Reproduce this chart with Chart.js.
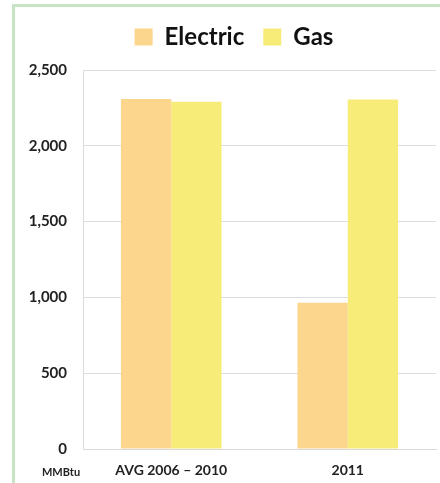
<!DOCTYPE html>
<html>
<head>
<meta charset="utf-8">
<script src="https://cdn.jsdelivr.net/npm/chart.js@4/dist/chart.umd.min.js"></script>
<style>
  html, body { margin:0; padding:0; width:440px; height:483px; overflow:hidden; background:#fff; }
  #frame { position:absolute; left:12px; top:4px; width:500px; height:600px; border:3px solid #c4e4c4; box-sizing:border-box; }
  #wrap { position:absolute; left:0; top:0; width:440px; height:483px; }
</style>
</head>
<body>
<div id="frame"></div>
<div id="wrap"><canvas id="c" width="440" height="483"></canvas></div>
<script>
const categories = ['AVG 2006 \u2013 2010', '2011'];
const electricValues = [2309, 965];
const gasValues = [2291, 2306];
const yTicks = [0, 500, 1000, 1500, 2000, 2500];
const unitLabel = 'MMBtu';

const FONT = 'Lato, "Open Sans", sans-serif';

const unitPlugin = {
  id: 'unitLabel',
  afterInit(chart) {
    const lg = chart.legend;
    if (lg) {
      const origFit = lg.fit;
      lg.fit = function () { origFit.call(this); this.height += 11; };
      const origDraw = lg.draw;
      lg.draw = function () {
        const ctx = this.ctx;
        ctx.save();
        ctx.translate(16, 0);
        origDraw.call(this);
        ctx.restore();
      };
    }
  },
  afterDraw(chart) {
    const ctx = chart.ctx;
    ctx.save();
    ctx.font = 'bold 11px ' + FONT;
    ctx.fillStyle = '#222';
    ctx.textAlign = 'center';
    ctx.textBaseline = 'middle';
    ctx.fillText(unitLabel, chart.chartArea.left - 22, 472);
    ctx.restore();
  }
};

new Chart(document.getElementById('c'), {
  type: 'bar',
  data: {
    labels: categories,
    datasets: [
      { label: 'Electric', data: electricValues, backgroundColor: '#fbd68c', borderWidth: 0 },
      { label: 'Gas', data: gasValues, backgroundColor: '#f7ec78', borderWidth: 0 }
    ]
  },
  options: {
    responsive: false,
    animation: false,
    layout: { padding: { top: 6, right: 4, left: 0, bottom: 0 } },
    datasets: { bar: { barPercentage: 1.0, categoryPercentage: 0.57 } },
    plugins: {
      legend: {
        display: true,
        position: 'top',
        labels: {
          font: { family: FONT, size: 24, weight: 'bold' },
          color: '#111',
          boxWidth: 18,
          boxHeight: 17,
          padding: 19
        }
      },
      tooltip: { enabled: false }
    },
    scales: {
      x: {
        grid: { display: false, drawTicks: false },
        border: { display: true, color: '#d9d9d9', width: 1 },
        ticks: {
          font: { family: FONT, size: 14, weight: 'bold' },
          color: '#222',
          padding: 13,
          maxRotation: 0
        },
        afterFit(scale) { scale.height = 34; }
      },
      y: {
        min: 0,
        max: 2500,
        afterBuildTicks(scale) { scale.ticks = yTicks.map(v => ({ value: v })); },
        grid: { color: '#dcdcdc', drawTicks: false, lineWidth: 1 },
        border: { display: true, color: '#dcdcdc', width: 1 },
        ticks: {
          font: { family: FONT, size: 15, weight: 'bold' },
          color: '#222',
          padding: 16,
          callback: (v) => v.toLocaleString('en-US')
        },
        afterFit(scale) { scale.width = 83; }
      }
    }
  },
  plugins: [unitPlugin]
});
</script>
</body>
</html>
